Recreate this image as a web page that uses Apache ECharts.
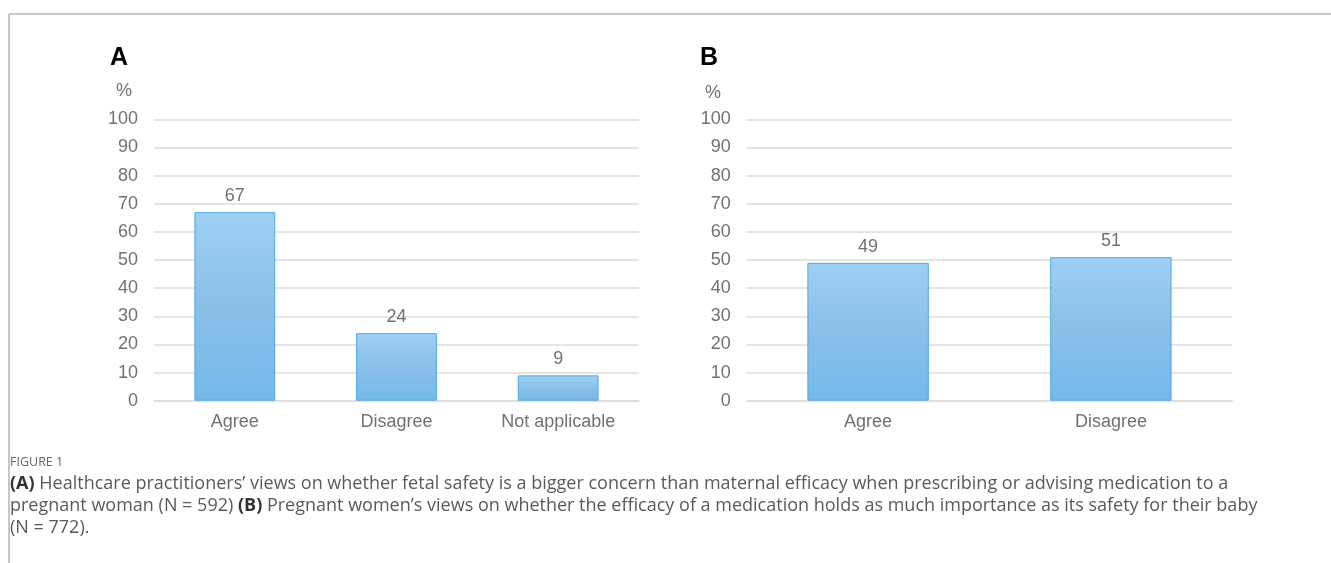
<!DOCTYPE html>
<html>
<head>
<meta charset="utf-8">
<script src="https://cdn.jsdelivr.net/npm/echarts@6/dist/echarts.min.js"></script>
<style>
  html, body { margin: 0; padding: 0; background: #fff; }
  #chart { width: 1331px; height: 563px; }
</style>
</head>
<body>
<div id="chart"></div>
<script>
// panel A: healthcare practitioners (N = 592)
const catsA = ["Agree", "Disagree", "Not applicable"];
const valsA = [67, 24, 9];
// panel B: pregnant women (N = 772)
const catsB = ["Agree", "Disagree"];
const valsB = [49, 51];
const yTicks = [0, 10, 20, 30, 40, 50, 60, 70, 80, 90, 100];

const captionLines = [
  "{b|(A)} Healthcare practitioners’ views on whether fetal safety is a bigger concern than maternal efficacy when prescribing or advising medication to a",
  "pregnant woman (N = 592) {b|(B)} Pregnant women’s views on whether the efficacy of a medication holds as much importance as its safety for their baby",
  "(N = 772).",
];

const labelFont = "Liberation Sans, Arial, sans-serif";
const grey = "#717171";

let myChart = echarts.init(document.getElementById("chart"));

let barFill = new echarts.graphic.LinearGradient(0, 0, 0, 1, [
  { offset: 0, color: "#9fcff3" },
  { offset: 0.5, color: "#8bbfe8" },
  { offset: 1, color: "#74b9e9" },
]);

function makeY(gridIndex) {
  return {
    type: "value",
    gridIndex: gridIndex,
    min: yTicks[0],
    max: yTicks[yTicks.length - 1],
    interval: 10,
    axisLine: { show: false },
    axisTick: { show: false },
    axisLabel: { color: grey, fontSize: 18, fontFamily: labelFont, margin: 16 },
    splitLine: { lineStyle: { color: "#dcdcdc", width: 1.5 } },
  };
}

function makeX(gridIndex, cats) {
  return {
    type: "category",
    gridIndex: gridIndex,
    data: cats,
    axisLine: { lineStyle: { color: "#dcdcdc", width: 1.5 } },
    axisTick: { show: false },
    axisLabel: { color: grey, fontSize: 18, fontFamily: labelFont, margin: 12 },
  };
}

function makeBar(idx, vals) {
  return {
    type: "bar",
    xAxisIndex: idx,
    yAxisIndex: idx,
    data: vals,
    barWidth: "50%",
    itemStyle: { color: barFill, borderColor: "#4fa9e2", borderWidth: 1 },
    label: {
      show: true,
      position: "top",
      distance: 7,
      color: grey,
      fontSize: 18,
      fontFamily: labelFont,
    },
  };
}

let graphics = [
  { type: "line", shape: { x1: 9, y1: 14, x2: 1331, y2: 14 }, style: { stroke: "#b4b4b4", lineWidth: 1.5 } },
  { type: "line", shape: { x1: 9, y1: 14, x2: 9, y2: 563 }, style: { stroke: "#b4b4b4", lineWidth: 1.5 } },
  { type: "text", x: 119, y: 58, style: { text: "A", font: "bold 25px " + labelFont, fill: "#000", align: "center", verticalAlign: "middle" } },
  { type: "text", x: 124, y: 91, style: { text: "%", font: "18px " + labelFont, fill: grey, align: "center", verticalAlign: "middle" } },
  { type: "text", x: 709, y: 58, style: { text: "B", font: "bold 25px " + labelFont, fill: "#000", align: "center", verticalAlign: "middle" } },
  { type: "text", x: 713, y: 93, style: { text: "%", font: "18px " + labelFont, fill: grey, align: "center", verticalAlign: "middle" } },
  { type: "text", x: 10, y: 462, style: { text: "FIGURE 1", font: "12.5px Open Sans", fill: "#666", verticalAlign: "middle" } },
];
captionLines.forEach((line, i) => {
  graphics.push({
    type: "text",
    x: 10,
    y: 484 + i * 22,
    style: {
      text: line,
      fontFamily: "Open Sans",
      fontSize: 18,
      fill: "#5a5a5a",
      verticalAlign: "middle",
      rich: { b: { fontFamily: "Open Sans", fontSize: 18, fontWeight: "bold", fill: "#333" } },
    },
  });
});

let option = {
  animation: false,
  grid: [
    { left: 154, right: 692, top: 119.3, bottom: 162.3 },
    { left: 746.7, right: 98.7, top: 119.3, bottom: 162.3 },
  ],
  xAxis: [makeX(0, catsA), makeX(1, catsB)],
  yAxis: [makeY(0), makeY(1)],
  series: [makeBar(0, valsA), makeBar(1, valsB)],
  graphic: graphics,
};
myChart.setOption(option);
</script>
</body>
</html>
